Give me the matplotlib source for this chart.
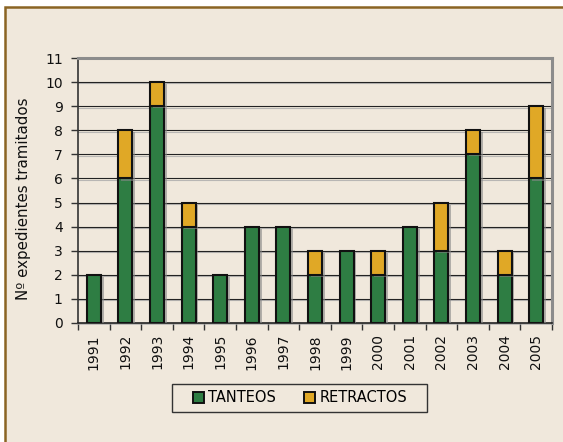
import matplotlib
matplotlib.use("Agg")
import matplotlib.pyplot as plt
import matplotlib.patheffects as pe
from matplotlib.patches import Rectangle, Patch
import numpy as np

years = ["1991", "1992", "1993", "1994", "1995", "1996", "1997", "1998",
         "1999", "2000", "2001", "2002", "2003", "2004", "2005"]
tanteos = [2, 6, 9, 4, 2, 4, 4, 2, 3, 2, 4, 3, 7, 2, 6]
retractos = [0, 2, 1, 1, 0, 0, 0, 1, 0, 1, 0, 2, 1, 1, 3]
yticks = list(range(0, 12))

BG = "#F0E8DC"
GREEN = "#2E7D43"
GOLD = "#E0A826"
BORDER = "#8A6423"

W, H = 563, 442
fig = plt.figure(figsize=(W / 100, H / 100), dpi=100)
fig.patch.set_facecolor("white")

# outer panel with brown border on top/left
fig.patches.append(Rectangle((4.5 / W, -0.1), 1.2, 1.1 - 7.5 / H,
                             transform=fig.transFigure, facecolor=BG,
                             edgecolor=BORDER, linewidth=1.8, zorder=-5))
# legend frame
fig.patches.append(Rectangle((172 / W, 1 - 412 / H), (427 - 172) / W, 28 / H,
                             transform=fig.transFigure, facecolor=BG,
                             edgecolor="#333333", linewidth=1.0, zorder=-4))

ax = fig.add_axes([78 / W, 1 - 323 / H, (552 - 78) / W, (323 - 58) / H])
ax.set_facecolor(BG)
ax.patch.set_alpha(0)

x = np.arange(len(years))
shadow = [pe.SimplePatchShadow(offset=(2, -1.5), shadow_rgbFace="#888888", alpha=0.6), pe.Normal()]
b1 = ax.bar(x, tanteos, width=0.44, color=GREEN, edgecolor="#111111", linewidth=1.5, zorder=3)
b2 = ax.bar(x, retractos, bottom=tanteos, width=0.44, color=GOLD, edgecolor="#111111",
            linewidth=1.5, zorder=3)
for r in list(b1) + list(b2):
    if r.get_height() > 0:
        r.set_path_effects(shadow)
    else:
        r.set_visible(False)

ax.set_xlim(-0.5, len(years) - 0.5)
ax.set_ylim(0, 11)
ax.set_yticks(yticks)
ax.set_yticklabels([str(v) for v in yticks], fontsize=10, color="#111111")

ax.set_xticks(x)
ax.set_xticklabels(years, rotation=90, fontsize=10, color="#111111")
ax.tick_params(axis="x", which="major", length=0, pad=8)
ax.set_xticks(np.arange(-0.5, len(years)), minor=True)
ax.tick_params(axis="x", which="minor", length=5, width=1, color="#333333", direction="out")
ax.tick_params(axis="y", length=5, width=1, color="#333333", direction="out", pad=6)

grid_eff = [pe.SimpleLineShadow(offset=(0, -1.0), shadow_color="#aaaaaa", alpha=0.8), pe.Normal()]
for v in yticks[1:-1]:
    ax.axhline(v, color="#222222", linewidth=0.8, zorder=1, path_effects=grid_eff)

for s in ["top", "right"]:
    ax.spines[s].set_color("#8C8C8C")
    ax.spines[s].set_linewidth(2.2)
ax.spines["left"].set_color("#333333")
ax.spines["left"].set_linewidth(1.2)
ax.spines["bottom"].set_color("#222222")
ax.spines["bottom"].set_linewidth(1.2)
ax.spines["bottom"].set_path_effects(grid_eff)

ax.set_ylabel("Nº expedientes tramitados", fontsize=10.8, color="#111111")
ax.yaxis.set_label_coords(31 / W, 1 - 199 / H, transform=fig.transFigure)

handles = [Patch(facecolor=GREEN, edgecolor="#111111", linewidth=1.4, label="TANTEOS"),
           Patch(facecolor=GOLD, edgecolor="#111111", linewidth=1.4, label="RETRACTOS")]
leg = fig.legend(handles=handles, loc="center", bbox_to_anchor=(300 / W, 1 - 398 / H),
                 ncol=2, fontsize=10.5, frameon=False,
                 handlelength=0.75, handleheight=0.75, handletextpad=0.3, columnspacing=1.9,
                 borderpad=0.3)

fig.savefig("out.png", dpi=100, facecolor=fig.get_facecolor())
